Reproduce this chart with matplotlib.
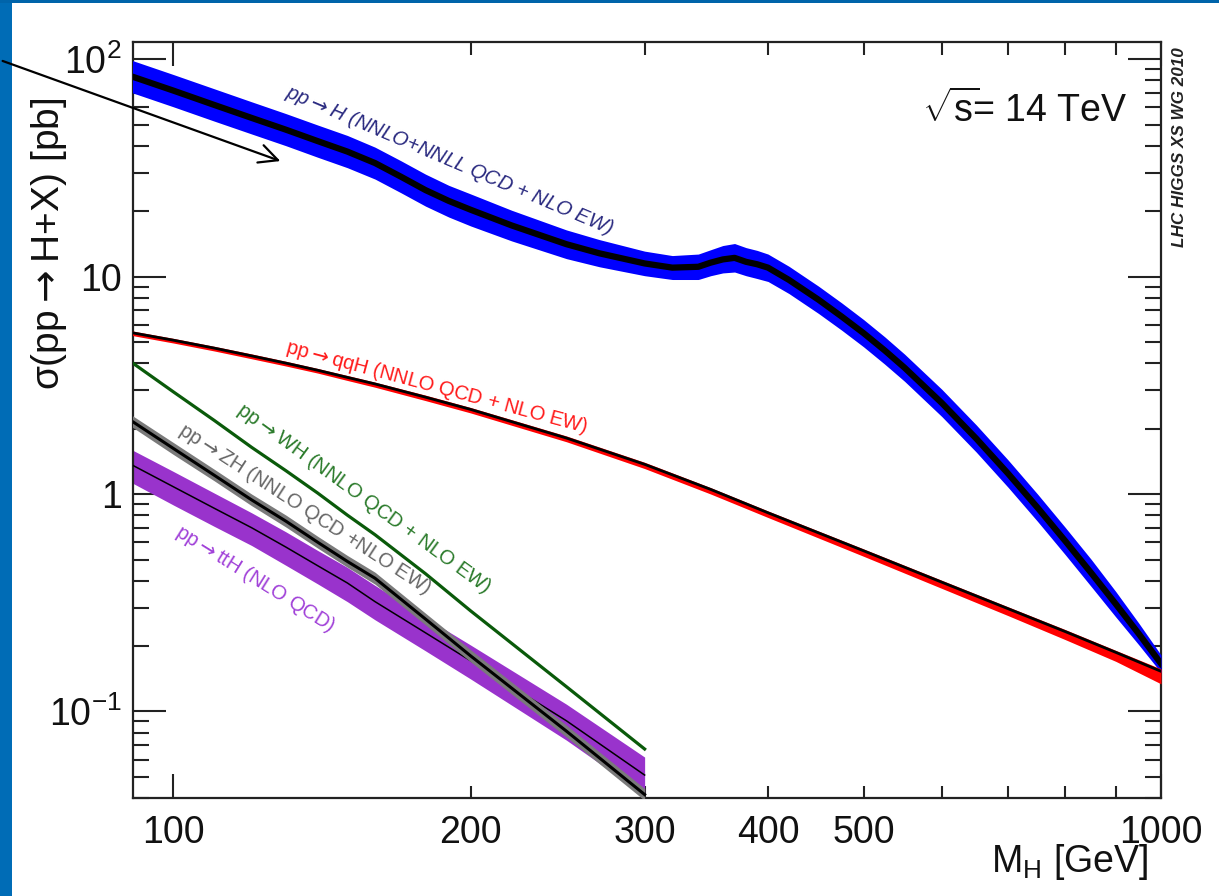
import matplotlib
matplotlib.use("Agg")
import matplotlib.pyplot as plt
from matplotlib.patches import Rectangle, FancyArrowPatch

plt.rcParams['font.family'] = ['Liberation Sans', 'DejaVu Sans']
plt.rcParams['mathtext.fontset'] = 'custom'
plt.rcParams['mathtext.rm'] = 'Liberation Sans'
plt.rcParams['mathtext.it'] = 'Liberation Sans:italic'
plt.rcParams['mathtext.bf'] = 'Liberation Sans:bold'
plt.rcParams['mathtext.sf'] = 'Liberation Sans'

# ---------------- data ----------------
mass_ggH = [90, 100, 110, 120, 130, 140, 150, 160, 170, 180, 190, 200, 220, 250,
            270, 300, 320, 340, 350, 360, 370, 380, 390, 400, 420, 450, 475, 500, 525,
            550, 600, 650, 700, 750, 800, 850, 900, 950, 1000]
ggH = [84.4, 71.7, 61.6, 53.7, 47.4, 42.0, 37.6, 33.3, 28.8, 25.0, 22.3, 20.3, 17.2, 14.1,
       12.8, 11.5, 11.0, 11.1, 11.6, 12.0, 12.2, 11.7, 11.4, 11.0, 9.66, 7.83, 6.55, 5.49, 4.58,
       3.81, 2.62, 1.80, 1.243, 0.865, 0.608, 0.433, 0.312, 0.227, 0.166]
ggH_up = [100.1, 85.0, 73.1, 63.7, 56.2, 49.8, 44.6, 39.4, 34.1, 29.6, 26.3, 24.0, 20.2, 16.4,
          14.8, 13.1, 12.5, 12.7, 13.3, 13.9, 14.2, 13.6, 13.2, 12.7, 11.16, 9.04, 7.57, 6.34, 5.29,
          4.40, 3.03, 2.08, 1.436, 0.999, 0.702, 0.50, 0.356, 0.254, 0.182]
ggH_dn = [71.1, 60.4, 51.9, 45.3, 40.0, 35.4, 31.7, 28.1, 24.3, 21.1, 18.8, 17.1, 14.6, 12.1,
          11.1, 10.1, 9.7, 9.7, 10.1, 10.4, 10.5, 10.1, 9.8, 9.5, 8.36, 6.77, 5.67, 4.75, 3.96,
          3.30, 2.27, 1.56, 1.075, 0.748, 0.526, 0.375, 0.272, 0.202, 0.151]

mass_qqH = [90, 100, 110, 120, 130, 140, 150, 160, 180, 200, 250, 300, 350, 400,
            500, 600, 700, 800, 900, 1000]
qqH = [5.56, 5.10, 4.69, 4.32, 4.00, 3.71, 3.44, 3.21, 2.79, 2.45, 1.81, 1.37, 1.05, 0.82,
       0.548, 0.393, 0.297, 0.233, 0.187, 0.153]
qqH_up = [5.67, 5.20, 4.78, 4.41, 4.08, 3.78, 3.51, 3.27, 2.85, 2.50, 1.85, 1.40, 1.07, 0.836,
          0.559, 0.401, 0.303, 0.238, 0.191, 0.157]
qqH_dn = [5.40, 4.95, 4.55, 4.19, 3.88, 3.60, 3.33, 3.10, 2.69, 2.36, 1.74, 1.31, 1.00, 0.78,
          0.517, 0.368, 0.276, 0.214, 0.170, 0.134]

mass_VH = [90, 100, 110, 120, 130, 140, 150, 160, 180, 200, 250, 300]
WH = [4.14, 2.95, 2.18, 1.64, 1.28, 1.01, 0.80, 0.65, 0.43, 0.29, 0.13, 0.0672]
ZH = [2.22, 1.62, 1.22, 0.94, 0.75, 0.60, 0.49, 0.41, 0.266, 0.18, 0.0812, 0.0415]
ZH_up = [2.36, 1.725, 1.30, 1.00, 0.80, 0.639, 0.522, 0.437, 0.283, 0.192, 0.0865, 0.0442]
ZH_dn = [2.09, 1.52, 1.15, 0.884, 0.705, 0.564, 0.461, 0.385, 0.250, 0.169, 0.0763, 0.0390]

mass_ttH = [90, 100, 110, 120, 130, 140, 150, 160, 180, 200, 250, 300]
ttH = [1.39, 1.08, 0.86, 0.70, 0.57, 0.468, 0.39, 0.32, 0.23, 0.171, 0.0906, 0.0510]
ttH_up = [1.63, 1.27, 1.01, 0.82, 0.67, 0.55, 0.46, 0.38, 0.27, 0.202, 0.108, 0.0617]
ttH_dn = [1.15, 0.89, 0.71, 0.58, 0.47, 0.386, 0.32, 0.264, 0.19, 0.141, 0.0738, 0.0413]

x_major = [100, 1000]
x_major_labels = ['100', '1000']
x_minor = [200, 300, 400, 500, 600, 700, 800, 900]
x_minor_labels = ['200', '300', '400', '500', '', '', '', '']
y_major = [0.1, 1, 10, 100]
y_major_labels = ['$10^{-1}$', '1', '10', '$10^{2}$']
y_minor = [0.04, 0.05, 0.06, 0.07, 0.08, 0.09,
           0.2, 0.3, 0.4, 0.5, 0.6, 0.7, 0.8, 0.9,
           2, 3, 4, 5, 6, 7, 8, 9,
           20, 30, 40, 50, 60, 70, 80, 90]

# ---------------- figure ----------------
W, H = 1219, 896
fig = plt.figure(figsize=(W / 100, H / 100), dpi=100)
fig.patch.set_facecolor('white')

# slide border
fig.add_artist(Rectangle((0, 0), 12 / W, 1, transform=fig.transFigure,
                         facecolor='#006CB6', edgecolor='none', zorder=0))
fig.add_artist(Rectangle((0, 1 - 3 / H), 1, 3 / H, transform=fig.transFigure,
                         facecolor='#0064AA', edgecolor='none', zorder=0))

ax = fig.add_axes([133 / W, 1 - 798 / H, (1161 - 133) / W, (798 - 42) / H])
ax.set_xscale('log')
ax.set_yscale('log')
ax.set_xlim(91, 1000)
ax.set_ylim(0.04, 120)

# ttH
ax.fill_between(mass_ttH, ttH_dn, ttH_up, color='#9933CC', lw=0, zorder=2)
ax.plot(mass_ttH, ttH, color='black', lw=1.1, zorder=3)
# ZH
ax.fill_between(mass_VH, ZH_dn, ZH_up, color='#7A7A7A', lw=0, zorder=4)
ax.plot(mass_VH, ZH, color='black', lw=2.2, zorder=5)
# WH
ax.plot(mass_VH, WH, color='#0A5A0A', lw=2.3, zorder=5)
# ggH
ax.fill_between(mass_ggH, ggH_dn, ggH_up, color='#0000FF', lw=0, zorder=6)
ax.plot(mass_ggH, ggH, color='black', lw=4.5, zorder=7)
# qqH
ax.fill_between(mass_qqH, qqH_dn, qqH_up, color='#FF0000', lw=0, zorder=8)
ax.plot(mass_qqH, qqH, color='black', lw=2.0, zorder=9)

# ticks
ax.set_xticks(x_major, labels=x_major_labels)
ax.set_xticks(x_minor, labels=x_minor_labels, minor=True)
ax.set_yticks(y_major, labels=y_major_labels)
ax.set_yticks(y_minor, labels=[''] * len(y_minor), minor=True)
ax.tick_params(axis='both', which='both', direction='in', top=True, right=True,
               width=1.5, color='#222222', labelcolor='#111111')
ax.tick_params(axis='y', which='major', length=24, pad=8, labelsize=27)
ax.tick_params(axis='y', which='minor', length=11.5)
ax.tick_params(axis='x', which='major', length=17, pad=12, labelsize=27)
ax.tick_params(axis='x', which='minor', length=9, pad=12, labelsize=27)
for s in ax.spines.values():
    s.set_linewidth(1.6)
    s.set_color('#222222')

# curve labels
lab = dict(fontsize=14.5, rotation_mode='anchor', ha='left', va='baseline', zorder=10,
           math_fontfamily='dejavusans')
ax.text(129.6, 67.5, r'pp$\rightarrow$H (NNLO+NNLL QCD + NLO EW)', rotation=-23,
        color='#2A2A80', style='italic', **lab)
ax.text(129.6, 4.51, r'pp$\rightarrow$qqH (NNLO QCD + NLO EW)', rotation=-15,
        color='#FF1A1A', **lab)
ax.text(115.6, 2.39, r'pp$\rightarrow$WH (NNLO QCD + NLO EW)', rotation=-36,
        color='#2A7A2A', **lab)
ax.text(100.9, 1.91, r'pp$\rightarrow$ZH (NNLO QCD +NLO EW)', rotation=-33,
        color='#666666', **lab)
ax.text(100.2, 0.647, r'pp$\rightarrow$ttH (NLO QCD)', rotation=-32,
        color='#A040D8', **lab)

# annotations
fig.text(1127 / W, 1 - 122 / H, r'$\sqrt{\mathrm{s}}\!$= 14 TeV', fontsize=27,
         ha='right', va='baseline', color='#111111')
fig.text(1180 / W, 1 - 47 / H, 'LHC HIGGS XS WG 2010', rotation=90, fontsize=12.3,
         fontweight='bold', style='italic', ha='center', va='top', color='#222222')
fig.text(49 / W, 1 - 244 / H, r'σ(pp$\rightarrow$H+X) [pb]', rotation=90, fontsize=28,
         ha='center', va='center', color='#111111', math_fontfamily='dejavusans')
fig.text(1148 / W, 1 - 872 / H, r'M$_{\mathrm{H}}$ [GeV]', fontsize=27,
         ha='right', va='baseline', color='#111111')

arrow = FancyArrowPatch((0, 1 - 60 / H), (283 / W, 1 - 162 / H), transform=fig.transFigure,
                        arrowstyle='->,head_length=0.67,head_width=0.33',
                        mutation_scale=20, lw=1.6, color='black', zorder=20)
fig.add_artist(arrow)

fig.savefig('out.png', dpi=100)
